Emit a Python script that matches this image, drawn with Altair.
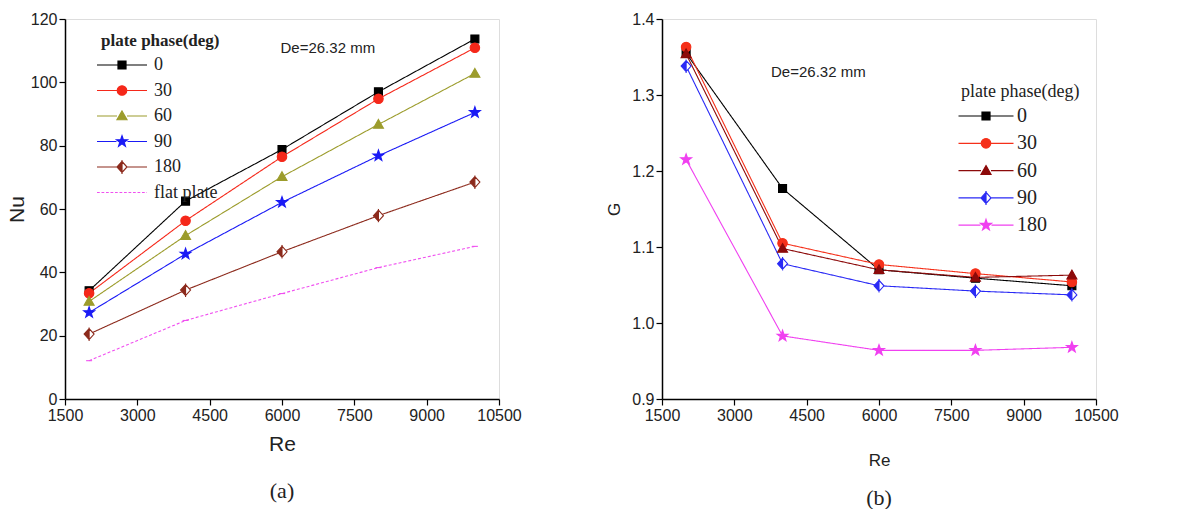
import math
import altair as alt
import pandas as pd

# ---------------- data ----------------
RE = [2000, 4000, 6000, 8000, 10000]
X_TICKS = [1500, 3000, 4500, 6000, 7500, 9000, 10500]

NU_SERIES = ["0", "30", "60", "90", "180", "flat plate"]
NU_0 = [34.2, 62.5, 78.8, 97.0, 113.7]
NU_30 = [33.4, 56.3, 76.5, 94.8, 110.9]
NU_60 = [30.8, 51.6, 70.2, 86.7, 102.8]
NU_90 = [27.3, 45.8, 62.1, 76.8, 90.5]
NU_180 = [20.5, 34.4, 46.5, 57.9, 68.5]
NU_FLAT = [12.1, 24.8, 33.3, 41.5, 48.2]
NU_TICKS = list(range(0, 121, 10))

G_SERIES = ["0", "30", "60", "90", "180"]
G_0 = [1.355, 1.177, 1.070, 1.059, 1.049]
G_30 = [1.363, 1.105, 1.077, 1.065, 1.054]
G_60 = [1.354, 1.098, 1.070, 1.060, 1.063]
G_90 = [1.338, 1.078, 1.049, 1.042, 1.037]
G_180 = [1.215, 0.983, 0.964, 0.964, 0.968]
G_TICKS = [round(0.9 + 0.05 * i, 2) for i in range(11)]

NOTE = ["De=26.32 mm"]

nu_df = pd.DataFrame([
    {"series": s, "Re": r, "v": v}
    for s, vals in zip(NU_SERIES, [NU_0, NU_30, NU_60, NU_90, NU_180, NU_FLAT])
    for r, v in zip(RE, vals)
])
g_df = pd.DataFrame([
    {"series": s, "Re": r, "v": v}
    for s, vals in zip(G_SERIES, [G_0, G_30, G_60, G_90, G_180])
    for r, v in zip(RE, vals)
])
note_df = pd.DataFrame({"t": NOTE})

# ---------------- marker shapes (unit paths) ----------------
def star_path(ro=1.15, ri=0.46):
    pts = []
    for k in range(10):
        a = math.radians(-90 + 36 * k)
        rr = ro if k % 2 == 0 else ri
        pts.append((rr * math.cos(a), rr * math.sin(a)))
    return "M" + "L".join(f"{x:.3f},{y:.3f}" for x, y in pts) + "Z"

SQUARE = ("M-0.8,-0.8H0.8V0.8H-0.8Z", 0.8)
CIRCLE = ("M0.95,0A0.95,0.95,0,1,1,-0.95,0A0.95,0.95,0,1,1,0.95,0Z", 0.95)
TRI = ("M0,-1L1,0.75L-1,0.75Z", 1.0)
STAR = (star_path(), 1.1)
DIAMOND = ("M0,-1.1L1,0L0,1.1L-1,0Z", 1.0)
HALF_DIAMOND = ("M0,-1.1L-1,0L0,1.1Z M0,-1.1L1,0L0,1.1Z M0,-1.1L0,1.1L1,0Z", 1.0)
DASH = ("M-0.6,0H0.6", None)


def legend_path(shape, half_len):
    path, w = shape
    if w is None:  # dashed line only
        segs = []
        x = -half_len
        while x < half_len:
            segs.append(f"M{x:.2f},0H{min(x + 0.55, half_len):.2f}")
            x += 0.9
        return "".join(segs)
    return f"M{-half_len},0H{-w}M{w},0H{half_len}" + path


FONT = "Liberation Sans"
SERIF = "Liberation Serif"
TXT = "#222222"
SIZE = 100


def axis_x(title_pad, title_size):
    return alt.Axis(values=X_TICKS, format="d", title="Re", grid=False,
                    labelFont=FONT, labelFontSize=16, labelColor=TXT, labelPadding=2,
                    labelFlush=False, labelOverlap=False,
                    tickSize=6, tickColor="black", tickWidth=1.2,
                    domainColor="black", domainWidth=1.5,
                    titleFont=FONT, titleFontSize=title_size, titleFontWeight="normal",
                    titleColor=TXT, titlePadding=title_pad)


def panel(df, series, colors, shapes, half, ydomain, yvals, ylabel_expr, minor_test,
          ytitle, ytitle_size, ytitle_pad, yfmt, legend_opts, half_len, note_x, note_y,
          caption, caption_offset, xtitle_pad, xtitle_size, dashed=None):
    x = alt.X("Re:Q", scale=alt.Scale(domain=[1500, 10500], nice=False, zero=False),
              axis=axis_x(xtitle_pad, xtitle_size))
    y = alt.Y("v:Q", scale=alt.Scale(domain=ydomain, nice=False, zero=False),
              axis=alt.Axis(values=yvals, format=yfmt, title=ytitle, grid=False,
                            labelExpr=ylabel_expr,
                            labelFont=FONT, labelFontSize=16, labelColor=TXT, labelPadding=2,
                            labelOverlap=False, labelFlush=False,
                            tickSize={"condition": {"test": minor_test, "value": 3}, "value": 6},
                            tickColor="black", tickWidth=1.2,
                            domainColor="black", domainWidth=1.5,
                            titleFont=FONT, titleFontSize=ytitle_size,
                            titleFontWeight="normal", titleColor=TXT,
                            titlePadding=ytitle_pad))
    dash_range = [[3, 2] if s == dashed else [1, 0] for s in series]
    lines = alt.Chart(df).mark_line(strokeWidth=1.1).encode(
        x=x, y=y,
        color=alt.Color("series:N", scale=alt.Scale(domain=series, range=colors), legend=None),
        strokeDash=alt.StrokeDash("series:N", scale=alt.Scale(domain=series, range=dash_range),
                                  legend=None),
    )
    under = alt.Chart(df).transform_filter(alt.datum.series == half).mark_point(
        filled=True, fill="white", shape=DIAMOND[0], size=SIZE, opacity=1, strokeOpacity=0
    ).encode(x=x, y=y)
    pts = alt.Chart(df).mark_point(filled=True, opacity=1, size=SIZE, strokeWidth=1.1).encode(
        x=x, y=y,
        shape=alt.Shape("series:N", scale=alt.Scale(domain=series, range=[s[0] for s in shapes]),
                        legend=None),
        fill=alt.Fill("series:N", scale=alt.Scale(domain=series, range=colors), legend=None),
        stroke=alt.Stroke("series:N", scale=alt.Scale(domain=series, range=colors), legend=None),
    )
    leg = alt.Legend(title="plate phase(deg)", orient="none", padding=0,
                     titleFont=SERIF, titleColor=TXT, labelFont=SERIF, labelColor=TXT,
                     symbolSize=SIZE, symbolStrokeWidth=1.2, **legend_opts)
    legend_layer = alt.Chart(df).transform_filter("false").mark_point(
        filled=True, opacity=1, size=SIZE).encode(
        x=x, y=y,
        shape=alt.Shape("series:N", scale=alt.Scale(
            domain=series, range=[legend_path(s, half_len) for s in shapes]), legend=leg),
        fill=alt.Fill("series:N", scale=alt.Scale(domain=series, range=colors), legend=leg),
        stroke=alt.Stroke("series:N", scale=alt.Scale(domain=series, range=colors), legend=leg),
    )
    note = alt.Chart(note_df).mark_text(font=FONT, fontSize=15, color=TXT).encode(
        text="t:N", x=alt.datum(note_x), y=alt.datum(note_y))
    return alt.layer(lines, under, pts, legend_layer, note).resolve_scale(
        shape="independent", fill="independent", stroke="independent"
    ).properties(
        width=434, height=380,
        title=alt.Title(caption, orient="bottom", font=SERIF, fontSize=22,
                        fontWeight="normal", color=TXT, offset=caption_offset),
    )


left = panel(
    nu_df, NU_SERIES,
    ["#000000", "#f5281a", "#9c9c2c", "#1a1af5", "#8c2a1c", "#f050f0"],
    [SQUARE, CIRCLE, TRI, STAR, HALF_DIAMOND, DASH], "180",
    [0, 120], NU_TICKS, "datum.value % 20 === 0 ? datum.label : ''", "datum.value % 20 !== 0",
    "Nu", 21, 3, "d",
    dict(legendX=36, legendY=14, titleFontSize=17, titleFontWeight="bold", labelFontSize=18,
         symbolOffset=12, labelOffset=23, rowPadding=7.5, titlePadding=6),
    5.0, 6950, 110.8, "(a)", 27, 10, 21, dashed="flat plate",
)

right = panel(
    g_df, G_SERIES,
    ["#000000", "#f5301a", "#8c0a0a", "#2a2af5", "#f040f0"],
    [SQUARE, CIRCLE, TRI, HALF_DIAMOND, STAR], "90",
    [0.9, 1.4], G_TICKS,
    "abs(datum.value*10 - round(datum.value*10)) < 0.001 ? format(datum.value, '.1f') : ''",
    "abs(datum.value*10 - round(datum.value*10)) > 0.001",
    "G", 17, 8, ".2f",
    dict(legendX=299, legendY=64, titleFontSize=18, titleFontWeight="normal", labelFontSize=20,
         symbolOffset=15, labelOffset=21, rowPadding=7.3, titlePadding=5),
    5.5, 4742, 1.330, "(b)", 20, 29, 17,
)

chart = alt.hconcat(left, right, spacing=163, bounds="flush").resolve_scale(
    color="independent", strokeDash="independent", shape="independent",
    fill="independent", stroke="independent"
).properties(
    padding={"left": 5, "top": 10, "right": 5, "bottom": 5}
).configure_view(stroke=None).configure(background="white")

chart.save("out.html", embed_options={"renderer": "svg", "actions": False})
